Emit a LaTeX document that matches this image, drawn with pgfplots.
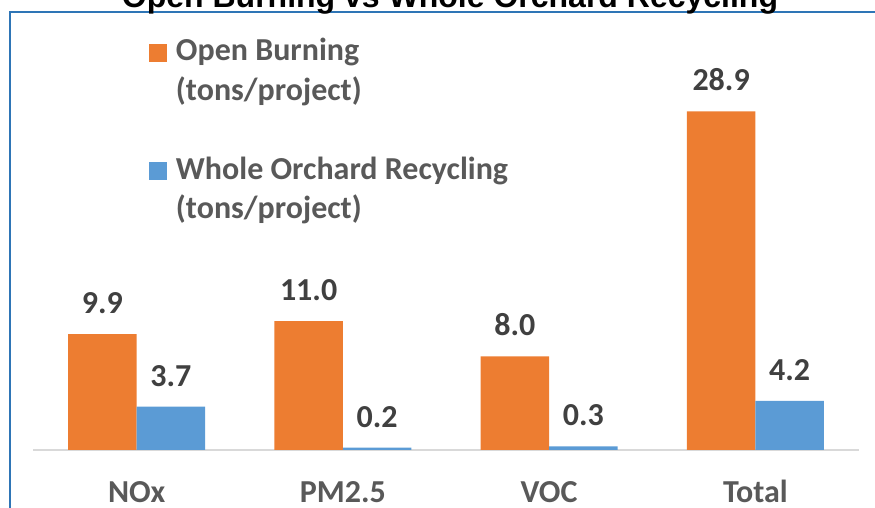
\documentclass[border=0pt]{standalone}
\usepackage{fontspec}
\setmainfont{Carlito}
\newfontfamily\titlefont{Liberation Sans}
\usepackage{pgfplots}
\pgfplotsset{compat=1.18}
\definecolor{ob}{HTML}{ED7D31}
\definecolor{wr}{HTML}{5B9BD5}
\definecolor{txt}{HTML}{595959}
\definecolor{lbl}{HTML}{404040}
\definecolor{framec}{HTML}{2E75B6}
\definecolor{axl}{HTML}{D9D9D9}
\begin{document}
\begin{tikzpicture}
\path[use as bounding box, clip] (0,0) rectangle (437.5pt,254pt);
\draw[framec, line width=1pt] (4.75pt,-20pt) -- (4.75pt,248pt) -- (460pt,248pt);
\node[font=\titlefont\bfseries\fontsize{16}{19}\selectfont, anchor=base, inner sep=0pt] at (225pt,250pt) {Open Burning vs Whole Orchard Recycling};
\begin{axis}[
  at={(16.75pt,29pt)}, anchor=south west,
  scale only axis, width=412.5pt, height=205pt,
  ymin=0, ymax=35, xmin=-0.5, xmax=3.5,
  ybar=0pt, bar width=34.25pt,
  axis y line=none, axis x line=bottom,
  x axis line style={-, axl, line width=1pt},
  xtick={0,1,2,3}, xticklabels={NOx, PM2.5, VOC, Total},
  xtick style={draw=none},
  ytick=\empty,
  xticklabel style={anchor=base, yshift=-24pt, font=\bfseries\fontsize{16}{18}\selectfont, text=txt, inner sep=0pt},
  nodes near coords={\pgfmathprintnumber[fixed, fixed zerofill, precision=1]{\pgfplotspointmeta}},
  every node near coord/.append style={font=\bfseries\fontsize{16}{18}\selectfont, text=lbl, anchor=south, inner sep=0pt, yshift=10pt},
  /pgf/number format/assume math mode=true,
  clip=false,
  legend cell align=left,
  legend style={at={(0.14,1.0171)}, anchor=north west, draw=none, fill=none, inner sep=0pt, outer sep=0pt, row sep=0pt, column sep=4.5pt,
    nodes={font=\bfseries\fontsize{16}{19}\selectfont, text=txt, inner sep=0pt, text height=14pt, text depth=5.75pt}},
]
\addplot[fill=ob, draw=none, bar shift=-17.125pt, legend image code/.code={\fill[ob] (0pt,-4.5pt) rectangle (9pt,4.5pt);}] coordinates {(0,9.9) (1,11.0) (2,8.0) (3,28.9)};
\addlegendimage{empty legend}
\addlegendimage{empty legend}
\addplot[fill=wr, draw=none, bar shift=17.125pt, legend image code/.code={\fill[wr] (0pt,-4.5pt) rectangle (9pt,4.5pt);}] coordinates {(0,3.7) (1,0.2) (2,0.3) (3,4.2)};
\addlegendimage{empty legend}
\legend{Open Burning, (tons/project), \mbox{}, Whole Orchard Recycling, (tons/project)}
\end{axis}
\end{tikzpicture}
\end{document}
